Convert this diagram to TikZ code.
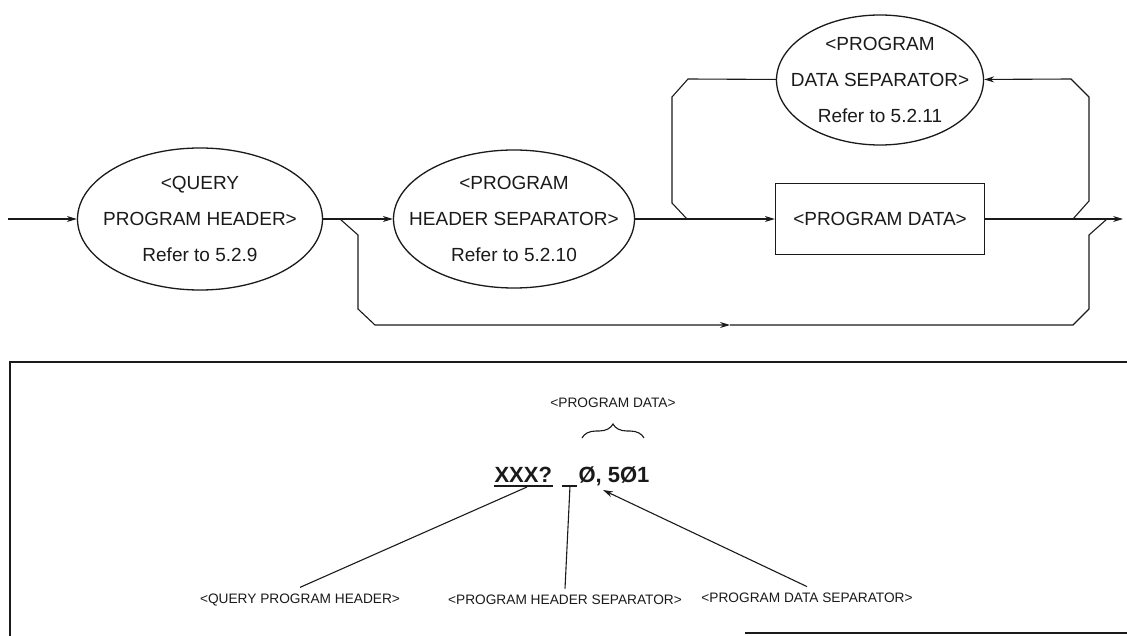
\documentclass[tikz,border=0pt]{standalone}
\usepackage{fontspec}
\setmainfont{Liberation Sans}
\usepackage{tikz}
\usetikzlibrary{arrows.meta,positioning,shapes.geometric,decorations.pathreplacing}
\definecolor{ink}{HTML}{1A1A1A}

\begin{document}
\begin{tikzpicture}[x=1pt,y=-1pt,color=ink,line width=1.1pt]
\tikzset{oval/.style={ellipse,draw=ink,line width=1.3pt,align=center,inner xsep=-25pt,inner ysep=0pt,font=\fontsize{19pt}{36pt}\selectfont},
  part/.style={draw=ink,line width=1.3pt,font=\fontsize{19pt}{23pt}\selectfont},
  arr/.style={-{Stealth[length=10pt,width=6pt]},draw=ink},
  tag/.style={font=\fontsize{13.7pt}{16pt}\selectfont,inner sep=6pt},
  big/.style={anchor=base west,inner sep=0pt,font=\fontsize{22pt}{22pt}\selectfont\bfseries},
  frame/.style={draw=ink,line width=1.4pt}}
\useasboundingbox (0,0) rectangle (1127,636);
\node[oval,minimum width=245pt,minimum height=142pt] (query) at (200,219) {<QUERY\\PROGRAM HEADER>\\Refer to 5.2.9};
\node[oval,minimum width=241pt,minimum height=138pt] (hsep) at (514,219) {<PROGRAM\\HEADER SEPARATOR>\\Refer to 5.2.10};
\node[oval,minimum width=207pt,minimum height=130pt] (dsep) at (880,80) {<PROGRAM\\DATA SEPARATOR>\\Refer to 5.2.11};
\node[part,minimum width=209pt,minimum height=71pt] (data) at (880,219) {<PROGRAM DATA>};
\coordinate (in) at (8,219);
\coordinate (out) at (1123,219);
\coordinate (js) at (340,219);
\coordinate (jl) at (687,219);
\coordinate (jr) at (1073,219);
\coordinate (jb) at (1107,219);
\coordinate (mid) at (730,325);
\draw[arr] (in)--(query);
\draw[arr] (query)--(hsep);
\draw[arr] (hsep)--(data);
\draw[arr] (data)--(out);
\draw[arr] (jr)--(1089,201)--(1089,97)--(1071,79)--(dsep);
\draw (dsep)--(688,79)--(672,97)--(672,203)--(jl);
\draw[arr] (js)--(358,235)--(358,309)--(375,325)--(mid);
\draw (mid)--(1073,325)--(1089,309)--(1089,235)--(jb);
\draw[frame] (1127,362)--(10,362)--(10,636);
\draw[frame] (745,633)--(1127,633);
\node[big] (hdr) at (494,482) {XXX?};
\node[big] (val) at (578,482) {Ø, 5Ø1};
\draw ([yshift=-4pt]hdr.base west)--([yshift=-4pt]hdr.base east);
\coordinate (gap) at (570,486);
\draw ([xshift=-8pt]gap)--([xshift=7pt]gap);
\draw[decorate,decoration={brace,amplitude=14pt}] (582,438)--(644,438);
\node[tag] (pdata) at (613,403) {<PROGRAM DATA>};
\node[tag] (qlbl) at (300,600) {<QUERY PROGRAM HEADER>};
\node[tag] (hlbl) at (565,600) {<PROGRAM HEADER SEPARATOR>};
\node[tag] (dlbl) at (807,598) {<PROGRAM DATA SEPARATOR>};
\coordinate (qtip) at (527,487);
\coordinate (comma) at (603,490);
\draw (qlbl.north)--(qtip);
\draw (hlbl.north)--(gap);
\draw[arr] (dlbl.north)--(comma);
\end{tikzpicture}
\end{document}
